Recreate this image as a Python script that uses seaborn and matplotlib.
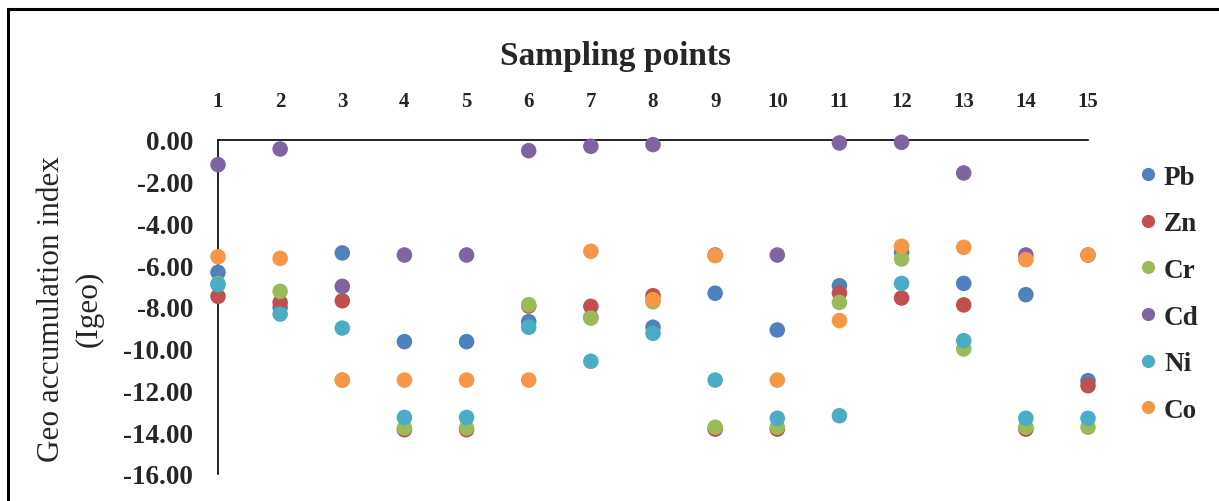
import numpy as np
import pandas as pd
import matplotlib
matplotlib.use('Agg')
import matplotlib.pyplot as plt
import seaborn as sns
from matplotlib.patches import Rectangle

# sampling points and Igeo values per metal
points = list(range(1, 16))
metals = ['Pb', 'Zn', 'Cr', 'Cd', 'Ni', 'Co']
pb = [-6.34, -8.02, -5.41, -9.66, -9.66, -8.70, -8.50, -8.97, -7.34, -9.10, -6.98, -5.38, -6.87, -7.41, -11.53]
zn = [-7.49, -7.78, -7.70, -13.88, -13.88, -7.95, -7.97, -7.46, -13.85, -13.85, -7.33, -7.57, -7.90, -13.85, -11.77]
cr = [-6.88, -7.25, -11.50, -13.80, -13.80, -7.89, -8.53, -7.75, -13.76, -13.76, -7.78, -5.70, -10.01, -13.76, -13.76]
cd = [-1.18, -0.43, -7.01, -5.51, -5.51, -0.51, -0.30, -0.22, -5.51, -5.51, -0.14, -0.11, -1.58, -5.51, -5.51]
ni = [-6.93, -8.34, -9.01, -13.29, -13.29, -8.97, -10.60, -9.26, -11.50, -13.33, -13.21, -6.87, -9.61, -13.33, -13.33]
co = [-5.59, -5.67, -11.50, -11.50, -11.50, -11.50, -5.33, -7.65, -5.54, -11.50, -8.65, -5.09, -5.14, -5.73, -5.51]
y_ticks = [0, -2, -4, -6, -8, -10, -12, -14, -16]

colors = ['#4F81BD', '#C0504D', '#9BBB59', '#8064A2', '#4BACC6', '#F79646']

# long form table for seaborn
frames = []
for name, vals in zip(metals, [pb, zn, cr, cd, ni, co]):
    frames.append(pd.DataFrame({'point': points, 'igeo': vals, 'metal': name}))
df = pd.concat(frames, ignore_index=True)

sns.set_style('white')
plt.rcParams['font.family'] = ['Liberation Serif', 'DejaVu Serif']

W, H = 1219, 502
fig = plt.figure(figsize=(W / 100, H / 100), dpi=100)
ax = fig.add_axes([218 / W, 1 - 475 / H, (1088 - 218) / W, (475 - 141) / H])

sns.scatterplot(data=df, x='point', y='igeo', hue='metal', hue_order=metals,
                palette=colors, s=125, edgecolor='none', linewidth=0,
                alpha=1, clip_on=False, zorder=3, ax=ax)

ax.set_xlim(1, 15)
ax.set_ylim(-16, 0)
ax.xaxis.tick_top()
ax.set_xticks(points)
ax.set_xticklabels([str(p) for p in points], fontsize=15, fontweight='bold')
ax.set_yticks(y_ticks)
ax.set_yticklabels(['%.2f' % v for v in y_ticks], fontsize=19.5, fontweight='bold')
ax.tick_params(axis='x', length=0, pad=21)
ax.tick_params(axis='y', length=0, pad=18)
ax.set_xlabel('')
ax.set_ylabel('')

for side in ['right', 'bottom']:
    ax.spines[side].set_visible(False)
for side in ['left', 'top']:
    ax.spines[side].set_color('black')
    ax.spines[side].set_linewidth(1.2)
ax.grid(False)

fig.text(615 / W, 1 - 56 / H, 'Sampling points', ha='center', va='center',
         fontsize=24, fontweight='bold')
fig.text(52 / W, 1 - 309 / H, 'Geo accumulation index', rotation=90,
         ha='center', va='center', fontsize=22.5)
fig.text(89 / W, 1 - 309 / H, '(Igeo)', rotation=90,
         ha='center', va='center', fontsize=22.5)

handles, labels = ax.get_legend_handles_labels()
leg = ax.legend(handles, labels, loc='upper left',
                bbox_to_anchor=(1118 / W, 1 - 152 / H), bbox_transform=fig.transFigure,
                frameon=False, markerscale=0.85, handletextpad=0.0, handlelength=1.2,
                labelspacing=0.8, borderpad=0, prop={'size': 19.5, 'weight': 'bold'})

# chart border
fig.patches.append(Rectangle((8 / W, -0.05), 1.1, 1 - 10 / H + 0.05,
                             transform=fig.transFigure, fill=False,
                             edgecolor='black', linewidth=2.2))

fig.savefig('out.png', dpi=100)
